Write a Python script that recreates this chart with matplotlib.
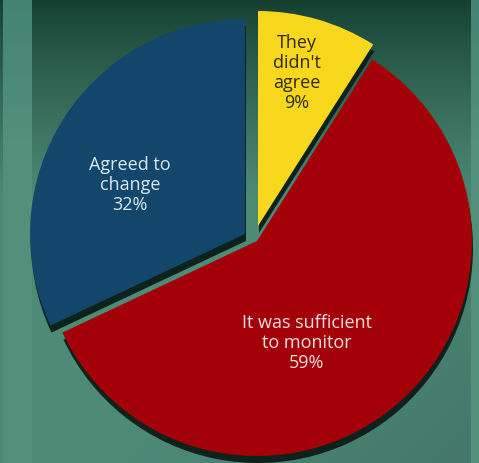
import numpy as np
import matplotlib.pyplot as plt
from matplotlib.colors import to_rgb
from matplotlib.patches import Wedge

labels = ["They\ndidn't\nagree\n9%", "It was sufficient\nto monitor\n59%", "Agreed to\nchange\n32%"]
values = [9, 59, 32]
colors = ['#f7d81c', '#a3000a', '#12466a']
text_colors = ['#2e2a0e', '#f3e0e0', '#dce8f0']

W, H = 479, 464
fig = plt.figure(figsize=(W / 100, H / 100), dpi=100)
ax = fig.add_axes([0, 0, 1, 1])

# background: dark green at top fading to teal, lighter bands at both sides
yy, xx = np.mgrid[0:H, 0:W]
top = np.array(to_rgb('#143f30'))
mid = np.array(to_rgb('#4e8b77'))
low = np.array(to_rgb('#43786a'))
t = np.clip(yy / 200.0, 0, 1)[..., None] ** 0.85
bg = top * (1 - t) + mid * t
d = np.clip((xx + yy - 560) / 360.0, 0, 1)[..., None]
bg = bg * (1 - d) + low * d
side = ((xx >= 3) & (xx < 32)) | (xx > 470)
side = side[..., None]
band = np.clip(yy / 140.0, 0, 1)[..., None]
side_col = np.array(to_rgb('#438371')) * (1 - band) + np.array(to_rgb('#52907c')) * band
bg = np.where(side, side_col, bg)
ax.imshow(bg, extent=(0, W, 0, H), origin='upper', zorder=0)

# slices are pulled apart by hand in the original, so each has its own apex (pixels, y up)
r = 215
apex = [(258, H - 227), (257, H - 242), (245, H - 235)]
shadow_off = (1, -7)

angles = np.cumsum([0] + values) / sum(values) * 360.0
for i, v in enumerate(values):
    t1 = 90 - angles[i + 1]
    t2 = 90 - angles[i]
    x, y = apex[i]
    ax.add_patch(Wedge((x + shadow_off[0], y + shadow_off[1]), r, t1, t2,
                       facecolor='#0d221a', linewidth=0, zorder=2))
for i, v in enumerate(values):
    t1 = 90 - angles[i + 1]
    t2 = 90 - angles[i]
    ax.add_patch(Wedge(apex[i], r, t1, t2, facecolor=colors[i], linewidth=0, zorder=3))

label_pos = [(297, 73), (307, 343), (130, 185)]
for lab, (x, y), c in zip(labels, label_pos, text_colors):
    ax.text(x, H - y, lab, ha='center', va='center', color=c, fontsize=13,
            family='Open Sans', linespacing=1.12, zorder=5)

ax.set_xlim(0, W)
ax.set_ylim(0, H)
ax.set_aspect('equal')
ax.axis('off')
fig.savefig('out.png', dpi=100)
